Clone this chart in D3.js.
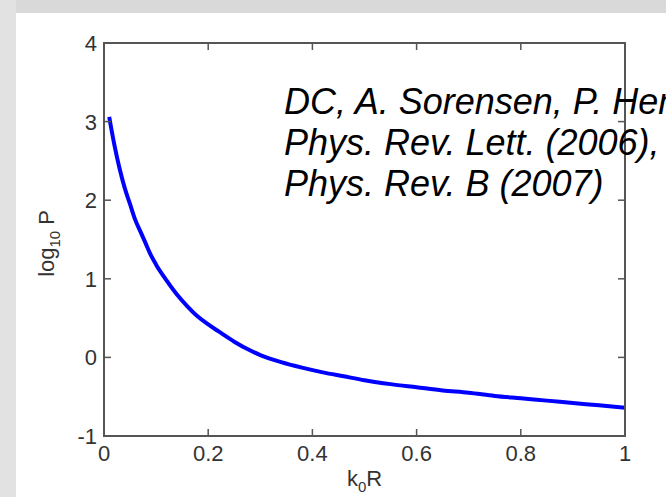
<!DOCTYPE html>
<html>
<head>
<meta charset="utf-8">
<script src="https://cdn.jsdelivr.net/npm/d3@7"></script>
<style>
  body { margin: 0; background: #fff; }
  svg { display: block; font-family: "Liberation Sans", Arial, sans-serif; }
</style>
</head>
<body>
<svg id="chart" width="666" height="497"></svg>
<script>
// curve: k0R vs log10 P
const kR = [0.01, 0.02, 0.03, 0.04, 0.05, 0.06, 0.07, 0.08, 0.09, 0.10,
  0.12, 0.14, 0.16, 0.18, 0.20, 0.22, 0.25, 0.28, 0.30, 0.34,
  0.38, 0.42, 0.46, 0.50, 0.55, 0.60, 0.65, 0.70, 0.75, 0.80,
  0.85, 0.90, 0.95, 1.00]
const logP = [3.06, 2.70, 2.40, 2.15, 1.95, 1.75, 1.60, 1.45, 1.30, 1.18,
  0.98, 0.80, 0.65, 0.52, 0.42, 0.33, 0.20, 0.09, 0.03, -0.06,
  -0.13, -0.19, -0.24, -0.29, -0.34, -0.38, -0.42, -0.45, -0.49, -0.52,
  -0.55, -0.58, -0.61, -0.64]
const xTicks = [0, 0.2, 0.4, 0.6, 0.8, 1]
const yTicks = [-1, 0, 1, 2, 3, 4]
const citation = ["DC, A. Sorensen, P. Hemmer,", "Phys. Rev. Lett. (2006),", "Phys. Rev. B (2007)"]

const svg = d3.select("#chart")
const margin = {top: 43, right: 41, bottom: 61, left: 104}
const width = svg.attr("width") - margin.left - margin.right
const height = svg.attr("height") - margin.top - margin.bottom

// slide background bands
svg.append("rect").attr("x", 0).attr("y", 0).attr("width", 666).attr("height", 13).attr("fill", "#d9d9d9")
svg.append("rect").attr("x", 0).attr("y", 0).attr("width", 16).attr("height", 497).attr("fill", "#e2e2e2")

const g = svg.append("g").attr("transform", `translate(${margin.left}, ${margin.top})`)

const x = d3.scaleLinear().domain([0, 1]).range([0, width])
const y = d3.scaleLinear().domain([-1, 4]).range([height, 0])

// tick labels (matlab style)
g.selectAll(".xl").data(xTicks).enter().append("text")
  .attr("x", d => x(d)).attr("y", height + 25)
  .attr("text-anchor", "middle").attr("font-size", 22).attr("fill", "#333")
  .text(d => d3.format("")(d))
g.selectAll(".yl").data(yTicks).enter().append("text")
  .attr("x", -7).attr("y", d => y(d) + 8)
  .attr("text-anchor", "end").attr("font-size", 22).attr("fill", "#333")
  .text(d => d)

// axis labels
const xl = g.append("text").attr("x", width / 2).attr("y", height + 50)
  .attr("text-anchor", "middle").attr("font-size", 22).attr("fill", "#333")
xl.append("tspan").text("k")
xl.append("tspan").attr("font-size", 15).attr("dy", 6).text("0")
xl.append("tspan").attr("dy", -6).text("R")

const yl = g.append("text")
  .attr("transform", `translate(${-50}, ${y(1.45)}) rotate(-90)`)
  .attr("text-anchor", "middle").attr("font-size", 22).attr("fill", "#333")
yl.append("tspan").text("log")
yl.append("tspan").attr("font-size", 15).attr("dy", 6).text("10")
yl.append("tspan").attr("dy", -6).text(" P")

// curve
const line = d3.line().x((d, i) => x(kR[i])).y(d => y(d)).curve(d3.curveMonotoneX)
g.append("path").datum(logP)
  .attr("d", line)
  .attr("fill", "none").attr("stroke", "#0000ff").attr("stroke-width", 4)
  .attr("stroke-linejoin", "round")

// citation text
svg.selectAll(".cite").data(citation).enter().append("text")
  .attr("x", 284).attr("y", (d, i) => 114 + i * 41)
  .attr("font-size", 36).attr("font-style", "italic").attr("fill", "#000")
  .text(d => d)

// inward ticks on all four sides
const tk = 7
const ticks = g.append("g").attr("stroke", "#555").attr("stroke-width", 1.5)
xTicks.forEach(t => {
  ticks.append("line").attr("x1", x(t)).attr("x2", x(t)).attr("y1", height).attr("y2", height - tk)
  ticks.append("line").attr("x1", x(t)).attr("x2", x(t)).attr("y1", 0).attr("y2", tk)
})
yTicks.forEach(t => {
  ticks.append("line").attr("x1", 0).attr("x2", tk).attr("y1", y(t)).attr("y2", y(t))
  ticks.append("line").attr("x1", width).attr("x2", width - tk).attr("y1", y(t)).attr("y2", y(t))
})

// box
g.append("rect").attr("width", width).attr("height", height)
  .attr("fill", "none").attr("stroke", "#555").attr("stroke-width", 2)
</script>
</body>
</html>
